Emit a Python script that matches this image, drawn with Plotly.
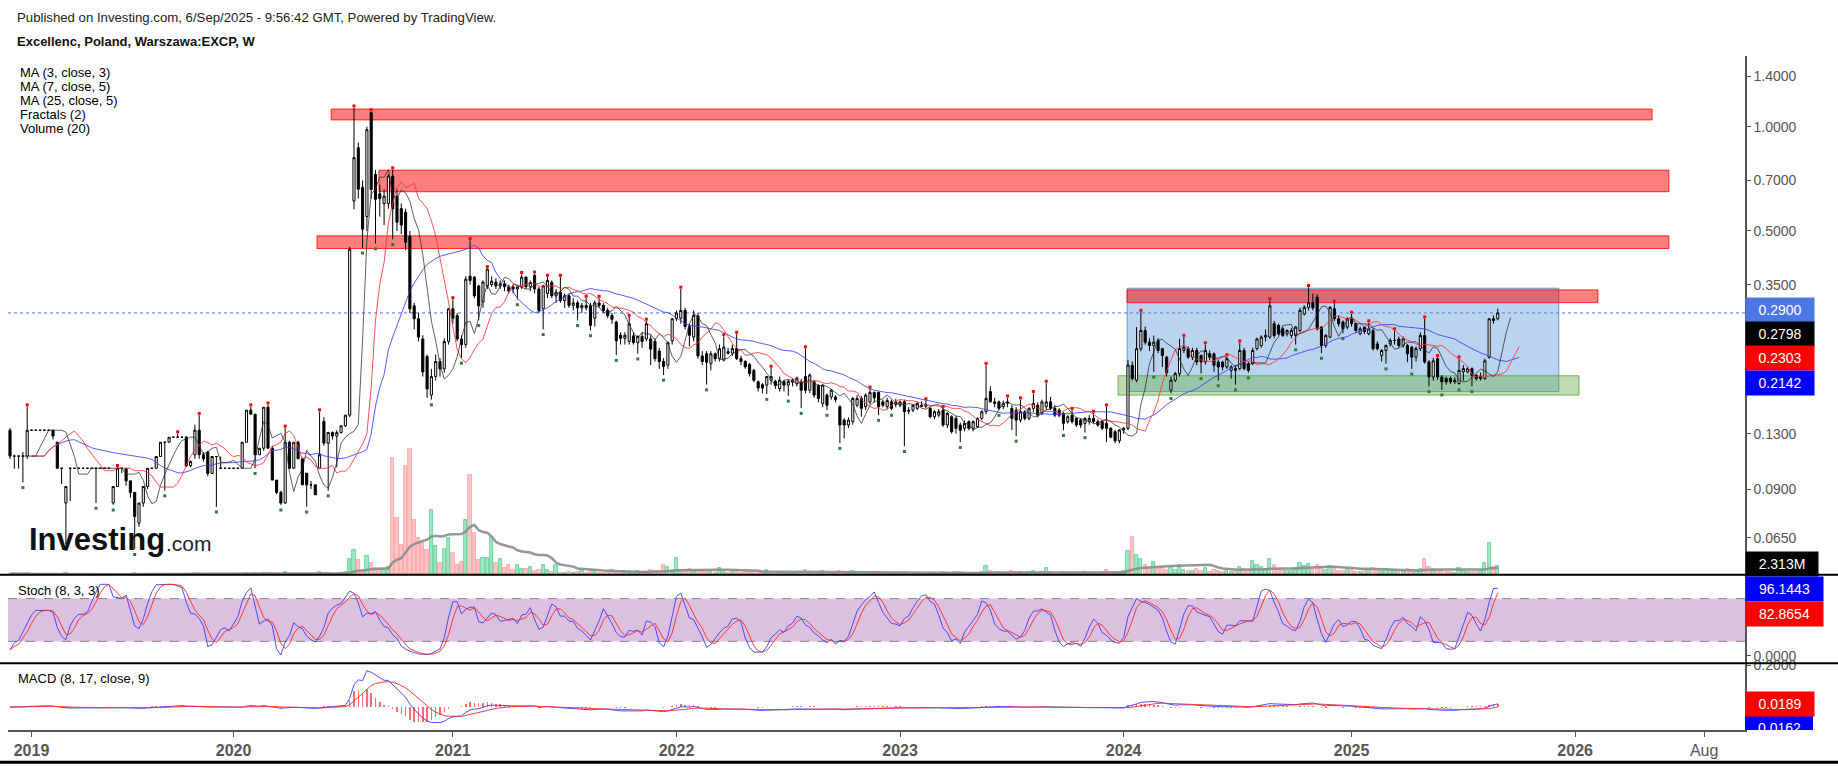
import numpy as np
import pandas as pd
import plotly.graph_objects as go

# ---------------- DATA (weekly bars) ----------------
OPEN = [
0.133,0.112,0.112,0.112,0.112,0.133,0.133,0.133,0.133,0.133,
0.133,0.1228,0.1033,0.082,0.1033,0.1033,0.1033,0.1033,0.1033,0.1033,
0.1033,0.1033,0.1033,0.1033,0.082,0.0915,0.1033,0.1033,0.095,0.088,
0.0717,0.082,0.0915,0.1033,0.1033,0.1117,0.1228,0.1228,0.127,0.127,
0.127,0.127,0.105,0.113,0.133,0.113,0.115,0.0998,0.1117,0.1033,
0.1033,0.1033,0.1033,0.1033,0.1033,0.1228,0.152,0.148,0.113,0.118,
0.155,0.118,0.0955,0.088,0.082,0.1228,0.1033,0.1228,0.110,0.100,
0.0925,0.0925,0.1033,0.141,0.122,0.131,0.128,0.131,0.137,0.147,
0.61,0.87,0.668,0.55,1.097,0.728,0.64,0.6,0.6,0.72,
0.63,0.58,0.566,0.483,0.304,0.279,0.244,0.217,0.168,0.19,
0.21,0.2,0.24,0.298,0.285,0.244,0.235,0.37,0.368,0.347,
0.312,0.347,0.35,0.356,0.347,0.352,0.345,0.345,0.34,0.345,
0.368,0.345,0.372,0.34,0.298,0.33,0.355,0.325,0.333,0.315,
0.325,0.305,0.31,0.3,0.305,0.304,0.28,0.31,0.305,0.295,
0.285,0.273,0.25,0.245,0.24,0.249,0.238,0.248,0.244,0.244,
0.24,0.225,0.21,0.205,0.241,0.279,0.28,0.295,0.265,0.247,
0.284,0.218,0.221,0.207,0.221,0.214,0.212,0.224,0.222,0.229,
0.214,0.21,0.206,0.198,0.1835,0.18,0.1795,0.1855,0.184,0.1755,
0.1835,0.1795,0.183,0.181,0.1835,0.19,0.1735,0.1835,0.1795,0.159,
0.168,0.166,0.166,0.1555,0.1423,0.1377,0.1408,0.157,0.1643,0.1555,
0.1606,0.171,0.171,0.1606,0.1555,0.1606,0.1578,0.157,0.1606,0.152,
0.152,0.1538,0.157,0.156,0.1538,0.1455,0.147,0.152,0.1377,0.1455,
0.1439,0.1377,0.1347,0.1408,0.1347,0.1362,0.1439,0.1504,0.172,0.1606,
0.1606,0.1555,0.159,0.1538,0.152,0.1423,0.1504,0.1439,0.1538,0.157,
0.149,0.1555,0.1606,0.1538,0.152,0.1487,0.1408,0.147,0.1439,0.1423,
0.1392,0.1408,0.1439,0.1408,0.1408,0.1392,0.1347,0.1317,0.124,0.1332,
0.1347,0.2047,0.1855,0.2287,0.258,0.2388,0.2336,0.2415,0.2287,0.2162,
0.1735,0.1855,0.1937,0.226,0.2287,0.2162,0.226,0.2186,0.2093,0.221,
0.221,0.2093,0.2093,0.2025,0.198,0.2003,0.2003,0.226,0.207,0.207,
0.2287,0.2336,0.247,0.247,0.27,0.267,0.261,0.2525,0.2497,0.2497,
0.258,0.288,0.301,0.31,0.322,0.264,0.2336,0.247,0.298,0.279,
0.273,0.264,0.279,0.27,0.2525,0.264,0.2525,0.258,0.236,0.2186,
0.226,0.236,0.2415,0.244,0.2336,0.2336,0.231,0.2162,0.2287,0.2497,
0.2093,0.1895,0.214,0.1895,0.1875,0.1875,0.1835,0.1815,0.196,0.196,
0.2003,0.1916,0.1875,0.1875,0.216,0.279,0.279]

HIGH = [
0.135,0.113,0.112,0.115,0.1555,0.133,0.133,0.133,0.133,0.133,
0.133,0.123,0.1033,0.0915,0.1033,0.1033,0.1033,0.1033,0.1033,0.1033,
0.1033,0.1033,0.1033,0.1033,0.0915,0.104,0.1035,0.1033,0.095,0.088,
0.082,0.0915,0.1033,0.1033,0.1117,0.1228,0.1228,0.127,0.127,0.13,
0.127,0.128,0.109,0.138,0.147,0.115,0.116,0.1117,0.1117,0.1117,
0.1033,0.1033,0.1033,0.1033,0.1228,0.152,0.1555,0.148,0.118,0.155,
0.1575,0.12,0.0955,0.089,0.135,0.124,0.1228,0.124,0.111,0.100,
0.095,0.0925,0.1505,0.145,0.131,0.132,0.133,0.137,0.147,0.45,
1.134,0.9,0.7,1.0,1.106,0.75,0.68,0.66,0.73,0.752,
0.66,0.6,0.58,0.5,0.31,0.29,0.25,0.22,0.2,0.22,
0.215,0.245,0.3,0.317,0.29,0.25,0.37,0.47,0.37,0.35,
0.36,0.39,0.37,0.365,0.36,0.36,0.35,0.35,0.345,0.375,
0.37,0.36,0.376,0.345,0.35,0.368,0.36,0.34,0.368,0.33,
0.33,0.32,0.315,0.31,0.32,0.31,0.315,0.32,0.31,0.3,
0.29,0.275,0.255,0.255,0.282,0.255,0.25,0.255,0.275,0.25,
0.245,0.23,0.215,0.24,0.28,0.295,0.34,0.3,0.27,0.295,
0.29,0.225,0.225,0.225,0.223,0.235,0.248,0.23,0.235,0.252,
0.218,0.212,0.208,0.2,0.185,0.182,0.19,0.201,0.186,0.19,
0.186,0.186,0.188,0.19,0.187,0.2287,0.194,0.186,0.18,0.18,
0.17,0.175,0.168,0.157,0.144,0.145,0.166,0.168,0.167,0.17,
0.175,0.172,0.172,0.163,0.165,0.163,0.164,0.162,0.163,0.155,
0.158,0.16,0.161,0.162,0.155,0.152,0.153,0.154,0.15,0.147,
0.146,0.14,0.142,0.142,0.142,0.145,0.152,0.205,0.178,0.165,
0.162,0.162,0.165,0.157,0.155,0.163,0.152,0.155,0.17,0.16,
0.163,0.182,0.166,0.157,0.154,0.15,0.147,0.152,0.145,0.144,
0.145,0.147,0.149,0.143,0.142,0.1555,0.136,0.133,0.134,0.136,
0.212,0.21,0.264,0.2915,0.265,0.245,0.2497,0.245,0.23,0.218,
0.19,0.196,0.244,0.247,0.232,0.23,0.23,0.22,0.235,0.226,
0.223,0.212,0.211,0.217,0.205,0.205,0.238,0.23,0.21,0.23,
0.246,0.25,0.26,0.315,0.275,0.27,0.265,0.26,0.262,0.266,
0.3,0.305,0.344,0.33,0.328,0.266,0.252,0.303,0.31,0.285,
0.276,0.282,0.288,0.272,0.265,0.266,0.272,0.262,0.24,0.228,
0.235,0.245,0.258,0.248,0.248,0.236,0.233,0.232,0.255,0.279,
0.212,0.215,0.216,0.192,0.19,0.19,0.189,0.214,0.205,0.203,
0.202,0.193,0.195,0.214,0.28,0.285,0.2985]

LOW = [
0.110,0.103,0.103,0.094,0.110,0.133,0.133,0.133,0.133,0.133,
0.125,0.1033,0.093,0.0623,0.083,0.1033,0.1033,0.1033,0.1033,0.1033,
0.082,0.1033,0.1033,0.1033,0.081,0.0915,0.1,0.092,0.085,0.0603,
0.07,0.08,0.09,0.1033,0.1033,0.1117,0.089,0.1228,0.127,0.127,
0.127,0.104,0.104,0.11,0.11,0.108,0.098,0.0998,0.080,0.1033,
0.1033,0.1033,0.1033,0.1033,0.1033,0.1228,0.148,0.1033,0.113,0.116,
0.118,0.0955,0.087,0.081,0.0815,0.1033,0.1033,0.11,0.0925,0.080,
0.09,0.0866,0.1033,0.12,0.089,0.125,0.104,0.13,0.136,0.145,
0.577,0.62,0.447,0.5,0.62,0.46,0.55,0.52,0.58,0.473,
0.5,0.49,0.44,0.29,0.26,0.24,0.19,0.165,0.163,0.185,
0.19,0.195,0.235,0.27,0.24,0.215,0.23,0.35,0.32,0.276,
0.3,0.34,0.345,0.34,0.34,0.335,0.33,0.33,0.317,0.34,
0.34,0.335,0.33,0.29,0.26,0.32,0.32,0.31,0.31,0.3,
0.3,0.295,0.276,0.29,0.295,0.258,0.265,0.3,0.29,0.28,
0.27,0.219,0.235,0.235,0.235,0.235,0.221,0.23,0.24,0.205,
0.21,0.2,0.192,0.2,0.235,0.275,0.27,0.26,0.232,0.24,
0.214,0.205,0.18,0.198,0.21,0.21,0.21,0.22,0.218,0.212,
0.205,0.2,0.19,0.183,0.172,0.17,0.169,0.18,0.175,0.172,
0.172,0.167,0.178,0.178,0.154,0.17,0.17,0.165,0.16,0.155,
0.152,0.163,0.16,0.122,0.126,0.135,0.138,0.155,0.1455,0.152,
0.158,0.16,0.147,0.155,0.153,0.152,0.155,0.155,0.1195,0.148,
0.15,0.152,0.155,0.154,0.144,0.143,0.145,0.136,0.135,0.13,
0.13,0.1228,0.132,0.133,0.132,0.135,0.142,0.148,0.16,0.155,
0.152,0.153,0.155,0.1332,0.128,0.14,0.142,0.142,0.15,0.145,
0.147,0.152,0.152,0.145,0.145,0.133,0.139,0.139,0.136,0.135,
0.131,0.138,0.139,0.136,0.133,0.1228,0.126,0.122,0.122,0.13,
0.133,0.185,0.183,0.225,0.235,0.225,0.196,0.222,0.2025,0.19,
0.17,0.183,0.19,0.222,0.214,0.212,0.205,0.194,0.206,0.212,
0.196,0.185,0.198,0.2,0.1875,0.18,0.198,0.198,0.195,0.205,
0.226,0.23,0.24,0.244,0.245,0.25,0.247,0.248,0.245,0.235,
0.255,0.285,0.295,0.295,0.258,0.222,0.23,0.245,0.275,0.265,
0.253,0.26,0.265,0.255,0.25,0.252,0.25,0.226,0.226,0.21,
0.207,0.232,0.235,0.23,0.23,0.209,0.2,0.21,0.225,0.207,
0.178,0.185,0.186,0.174,0.18,0.181,0.181,0.18,0.185,0.194,
0.178,0.185,0.185,0.186,0.214,0.27,0.276]

CLOSE = [
0.112,0.112,0.112,0.112,0.133,0.133,0.133,0.133,0.133,0.133,
0.128,0.1033,0.1033,0.0915,0.1033,0.1033,0.1033,0.1033,0.1033,0.1033,
0.1033,0.1033,0.1033,0.1033,0.0915,0.1033,0.1033,0.095,0.088,0.075,
0.082,0.0915,0.1033,0.1033,0.1117,0.1228,0.1228,0.127,0.127,0.127,
0.127,0.105,0.108,0.133,0.113,0.110,0.0998,0.1117,0.1117,0.1033,
0.1033,0.1033,0.1033,0.1033,0.1228,0.152,0.148,0.113,0.118,0.155,
0.118,0.0955,0.088,0.082,0.1228,0.1033,0.1228,0.110,0.0925,0.0925,
0.0925,0.0866,0.113,0.122,0.131,0.128,0.131,0.137,0.147,0.443,
0.814,0.66,0.506,0.98,0.659,0.617,0.62,0.63,0.72,0.58,
0.53,0.52,0.464,0.298,0.279,0.247,0.196,0.175,0.19,0.21,
0.2,0.24,0.298,0.28,0.244,0.235,0.363,0.36,0.325,0.304,
0.356,0.388,0.358,0.347,0.352,0.345,0.335,0.34,0.345,0.368,
0.345,0.355,0.34,0.295,0.347,0.36,0.325,0.333,0.315,0.325,
0.305,0.31,0.3,0.305,0.3,0.267,0.31,0.305,0.295,0.285,
0.278,0.241,0.245,0.25,0.27,0.238,0.248,0.24,0.27,0.228,
0.214,0.21,0.203,0.238,0.279,0.29,0.295,0.265,0.25,0.285,
0.218,0.21,0.209,0.221,0.214,0.2287,0.231,0.222,0.229,0.214,
0.21,0.2025,0.194,0.1855,0.176,0.176,0.19,0.19,0.179,0.1855,
0.1795,0.184,0.1855,0.188,0.1735,0.1735,0.192,0.168,0.1643,0.1795,
0.157,0.1735,0.163,0.1377,0.1377,0.1423,0.1643,0.1643,0.1538,0.168,
0.171,0.165,0.1555,0.157,0.162,0.1538,0.1606,0.1606,0.1504,0.151,
0.157,0.159,0.156,0.158,0.1455,0.1504,0.1504,0.1377,0.1487,0.1317,
0.1347,0.133,0.1392,0.1347,0.1408,0.1439,0.1504,0.1643,0.1606,0.159,
0.1538,0.159,0.16,0.1439,0.1423,0.1504,0.1439,0.1538,0.159,0.147,
0.1606,0.1606,0.1538,0.147,0.147,0.1392,0.1455,0.1408,0.1377,0.1377,
0.1439,0.1439,0.141,0.1377,0.1347,0.1347,0.127,0.124,0.1332,0.1347,
0.205,0.1875,0.2287,0.258,0.2388,0.2336,0.2388,0.226,0.2186,0.195,
0.1855,0.1937,0.2287,0.231,0.2162,0.226,0.2093,0.2093,0.226,0.2162,
0.2047,0.2025,0.2025,0.214,0.2025,0.198,0.226,0.2003,0.198,0.226,
0.244,0.247,0.2497,0.304,0.2497,0.2525,0.2497,0.258,0.258,0.264,
0.295,0.301,0.31,0.3,0.261,0.2336,0.2497,0.301,0.279,0.27,
0.261,0.279,0.27,0.258,0.261,0.256,0.261,0.2287,0.2287,0.226,
0.2336,0.2415,0.2415,0.2336,0.244,0.221,0.2162,0.2287,0.2497,0.2093,
0.1895,0.211,0.1895,0.1835,0.1835,0.1835,0.1855,0.198,0.2003,0.2003,
0.1916,0.1875,0.19,0.211,0.279,0.276,0.29]

VOLUME_M = [
0.3,0.2,0.1,0.2,0.4,0.05,0.05,0.05,0.05,0.05,
0.2,0.3,0.1,0.5,0.1,0.05,0.05,0.05,0.05,0.05,
0.1,0.05,0.05,0.05,0.3,0.2,0.1,0.2,0.2,0.4,
0.3,0.2,0.2,0.05,0.2,0.3,0.2,0.2,0.05,0.1,
0.05,0.3,0.1,0.4,0.4,0.1,0.2,0.2,0.2,0.1,
0.05,0.05,0.05,0.05,0.3,0.5,0.2,0.4,0.2,0.5,
0.5,0.4,0.3,0.3,0.6,0.3,0.3,0.3,0.3,0.3,
0.2,0.3,0.6,0.5,0.4,0.3,0.3,0.4,0.6,
4.0,6.4,3.7,1.3,4.9,3.0,1.7,0.9,1.1,2.1,
30.0,14.5,7.7,28.0,32.5,14.1,9.4,8.1,6.4,16.7,
7.5,3.0,6.6,9.4,5.6,2.6,3.2,14.1,25.6,10.7,
3.8,4.4,4.4,9.8,3.0,4.0,1.7,2.6,1.3,2.6,
1.5,1.5,2.1,0.9,1.3,2.6,1.3,0.6,2.6,0.4,
0.5,0.8,0.4,0.6,0.9,0.5,1.1,0.7,0.4,0.5,
0.6,1.2,0.8,0.5,1.0,0.6,0.5,0.9,0.7,0.8,
1.3,0.9,0.7,2.6,2.1,1.2,4.4,1.3,0.8,1.5,
1.2,0.9,
0.9,0.6,0.7,0.5,1.6,0.8,0.4,0.7,0.9,0.5,
0.6,0.8,0.7,0.9,0.6,1.1,0.8,0.5,0.6,0.4,
0.5,0.3,0.4,0.8,1.2,0.6,0.5,0.7,0.9,0.6,
0.5,0.4,1.0,0.7,0.5,0.9,0.6,0.5,0.7,0.8,
0.4,0.6,0.3,0.4,0.5,0.3,0.4,0.8,0.4,0.3,
0.4,0.3,0.4,0.5,0.3,0.3,0.6,0.4,0.5,0.6,
0.7,0.4,0.3,0.4,0.5,0.8,2.2,1.0,0.5,0.6,
0.4,0.5,0.9,0.7,0.8,0.4,0.6,1.0,0.5,0.7,
1.6,0.6,0.5,0.4,0.8,0.4,0.6,0.5,0.4,0.6,
0.5,0.4,0.5,0.6,1.1,0.8,0.7,0.6,0.9,
6.2,9.6,5.2,4.0,2.5,1.8,3.2,1.5,1.9,1.3,
2.0,1.1,2.6,1.2,0.9,1.0,1.4,0.9,1.6,0.8,
1.1,0.9,0.7,1.0,0.8,1.2,2.1,1.4,1.1,3.5,
2.4,2.0,1.5,4.0,2.6,1.3,1.1,0.9,1.0,1.8,
3.0,2.2,2.8,1.5,2.4,1.9,1.2,2.3,1.5,1.0,
0.9,1.2,1.1,0.8,0.7,0.9,1.3,1.6,1.0,0.9,
1.1,1.2,0.9,0.8,1.0,1.4,1.2,0.9,1.5,4.0,
2.1,1.5,1.2,1.1,0.7,0.6,0.5,1.7,0.9,0.6,
0.8,0.6,0.9,3.0,8.2,2.0,2.313]

FIRST_WEEK = "2018-12-03"
SKIPPED_WEEKS = ["2019-02-25", "2019-05-06", "2019-07-22", "2019-08-26", "2019-10-14", "2020-04-13"]
X_TICK_LABELS = ["2019", "2020", "2021", "2022", "2023", "2024", "2025", "2026", "Aug"]
PRICE_TICKS = [1.4, 1.0, 0.7, 0.5, 0.35, 0.13, 0.09, 0.065]
LAST_LABELS = ["0.2900", "0.2798", "0.2303", "0.2142"]
VOLUME_LABEL = "2.313M"
STOCH_LABELS = ["96.1443", "82.8654"]
MACD_LABELS = ["0.0189", "0.0162"]
LAST_PRICE = 0.29

# drawn zones: (first bar index, last bar index, low price, high price)
RED_ZONES = [(74.7, 381.9, 1.046, 1.124), (85.8, 385.8, 0.649, 0.749),
             (71.4, 385.8, 0.445, 0.484), (259.8, 369.3, 0.3106, 0.338)]
BLUE_ZONE = (259.8, 360.2, 0.172, 0.3418)
GREEN_ZONE = (257.7, 364.9, 0.168, 0.191)

# ---------------- derived series ----------------
n = len(CLOSE)
idx = np.arange(n)
o = pd.Series(OPEN); h = pd.Series(HIGH); l = pd.Series(LOW); c = pd.Series(CLOSE)
vol = pd.Series(VOLUME_M)

weeks = [d for d in pd.date_range(FIRST_WEEK, periods=480, freq="W-MON")
         if d.strftime("%Y-%m-%d") not in SKIPPED_WEEKS]
tickvals = []
for lab in X_TICK_LABELS:
    if lab == "Aug":
        k = next(i for i, d in enumerate(weeks) if d.year == 2026 and d.month == 8)
    else:
        k = next(i for i, d in enumerate(weeks) if d.year == int(lab))
    tickvals.append(k)
ticktext = [("<b>%s</b>" % t if t.isdigit() else t) for t in X_TICK_LABELS]

ma3 = c.rolling(3, min_periods=1).mean()
ma7 = c.rolling(7, min_periods=1).mean()
ma25 = c.rolling(25, min_periods=1).mean()

hh = h.rolling(8, min_periods=1).max(); ll = l.rolling(8, min_periods=1).min()
raw = 100 * (c - ll) / (hh - ll).replace(0, np.nan)
raw = raw.ffill().fillna(50)
stk = raw.rolling(3, min_periods=1).mean()
std = stk.rolling(3, min_periods=1).mean()

ema8 = c.ewm(span=8, adjust=False).mean()
ema17 = c.ewm(span=17, adjust=False).mean()
macd = ema8 - ema17
sig = macd.ewm(span=9, adjust=False).mean()
hist = macd - sig

vma = vol.rolling(20, min_periods=1).mean()
up = (c >= o).values
vcol = np.where(up, "rgba(40,200,120,0.45)", "rgba(255,90,90,0.35)")
vline = np.where(up, "rgba(40,190,110,0.7)", "rgba(255,110,110,0.6)")

fr_up = [i for i in range(2, n - 2) if h[i] > max(h[i - 2], h[i - 1], h[i + 1], h[i + 2])]
fr_dn = [i for i in range(2, n - 2) if l[i] < min(l[i - 2], l[i - 1], l[i + 1], l[i + 2])]

# ---------------- geometry ----------------
W, H = 1838, 767
ML, MR, MT, MB = 8, 93, 56, 34
PW, PH = W - ML - MR, H - MT - MB
def px_x(X): return (X - ML) / PW
def px_y(Y): return (H - MB - Y) / PH

Y_PRICE_BOTTOM, Y_STOCH_BOTTOM = 577, 666
dom_price = [px_y(Y_PRICE_BOTTOM), 1.0]
dom_stoch = [px_y(Y_STOCH_BOTTOM), px_y(Y_PRICE_BOTTOM)]
dom_macd = [0.0, px_y(Y_STOCH_BOTTOM)]
FONT = "Liberation Sans, Arial, sans-serif"
AX = "#555555"

fig = go.Figure()

# volume (base axis of price pane)
fig.add_trace(go.Bar(x=idx, y=vol, marker=dict(color=vcol, line=dict(color=vline, width=0.8)),
                     width=0.75, xaxis="x", yaxis="y", hoverinfo="skip"))
fig.add_trace(go.Scatter(x=idx, y=vma, mode="lines", line=dict(color="rgba(140,140,140,0.9)", width=2.5),
                         xaxis="x", yaxis="y", hoverinfo="skip"))

# candles
fig.add_trace(go.Candlestick(x=idx, open=o, high=h, low=l, close=c, xaxis="x", yaxis="y4",
                             increasing=dict(line=dict(color="black", width=1), fillcolor="white"),
                             decreasing=dict(line=dict(color="black", width=1), fillcolor="black"),
                             whiskerwidth=0, hoverinfo="skip"))
# moving averages with offsets
fig.add_trace(go.Scatter(x=idx + 5, y=ma25, mode="lines", line=dict(color="rgba(60,60,255,0.85)", width=1),
                         xaxis="x", yaxis="y4", hoverinfo="skip"))
fig.add_trace(go.Scatter(x=idx + 5, y=ma7, mode="lines", line=dict(color="rgba(255,50,50,0.85)", width=1),
                         xaxis="x", yaxis="y4", hoverinfo="skip"))
fig.add_trace(go.Scatter(x=idx + 3, y=ma3, mode="lines", line=dict(color="rgba(40,40,40,0.75)", width=1),
                         xaxis="x", yaxis="y4", hoverinfo="skip"))
# fractals
fig.add_trace(go.Scatter(x=fr_up, y=[h[i] * 1.012 for i in fr_up], mode="markers",
                         marker=dict(symbol="square", size=3, color="red"), xaxis="x", yaxis="y4", hoverinfo="skip"))
fig.add_trace(go.Scatter(x=fr_dn, y=[l[i] / 1.035 for i in fr_dn], mode="markers",
                         marker=dict(symbol="square", size=3, color="#2e7d32"), xaxis="x", yaxis="y4", hoverinfo="skip"))

# stochastic
fig.add_trace(go.Scatter(x=idx, y=stk, mode="lines", line=dict(color="rgba(60,60,255,0.9)", width=1),
                         xaxis="x2", yaxis="y2", hoverinfo="skip"))
fig.add_trace(go.Scatter(x=idx, y=std, mode="lines", line=dict(color="rgba(255,40,40,0.9)", width=1),
                         xaxis="x2", yaxis="y2", hoverinfo="skip"))

# MACD
fig.add_trace(go.Bar(x=idx, y=hist, marker=dict(color="rgba(255,60,60,0.75)", line=dict(width=0)), width=0.35,
                     xaxis="x3", yaxis="y3", hoverinfo="skip"))
fig.add_trace(go.Scatter(x=idx, y=macd, mode="lines", line=dict(color="rgba(60,60,255,0.9)", width=1),
                         xaxis="x3", yaxis="y3", hoverinfo="skip"))
fig.add_trace(go.Scatter(x=idx, y=sig, mode="lines", line=dict(color="rgba(255,40,40,0.9)", width=1),
                         xaxis="x3", yaxis="y3", hoverinfo="skip"))

shapes = []
# zones
x0, x1, y0, y1 = BLUE_ZONE
shapes.append(dict(type="rect", xref="x", yref="y4", x0=x0, x1=x1, y0=y0, y1=y1, layer="below",
                   fillcolor="rgba(90,150,215,0.42)", line=dict(color="rgba(70,130,200,0.8)", width=1)))
x0, x1, y0, y1 = GREEN_ZONE
shapes.append(dict(type="rect", xref="x", yref="y4", x0=x0, x1=x1, y0=y0, y1=y1, layer="below",
                   fillcolor="rgba(110,180,80,0.45)", line=dict(color="rgba(90,170,60,0.85)", width=1)))
for (x0, x1, y0, y1) in RED_ZONES:
    shapes.append(dict(type="rect", xref="x", yref="y4", x0=x0, x1=x1, y0=y0, y1=y1, layer="below",
                       fillcolor="rgba(255,0,0,0.5)", line=dict(color="rgba(255,0,0,0.8)", width=1)))
# last price dotted line
shapes.append(dict(type="line", xref="paper", yref="y4", x0=0, x1=1, y0=LAST_PRICE, y1=LAST_PRICE,
                   line=dict(color="rgb(70,110,230)", width=1, dash="dot"), layer="below"))
# stochastic band
shapes.append(dict(type="rect", xref="paper", yref="y2", x0=0, x1=1, y0=20, y1=80, layer="below",
                   fillcolor="#dcc0e0", line=dict(width=0)))
for lev in (20, 80):
    shapes.append(dict(type="line", xref="paper", yref="y2", x0=0, x1=1, y0=lev, y1=lev, layer="below",
                       line=dict(color="#888888", width=1, dash="dash")))
# pane separators and bottom frame line
for Y in (Y_PRICE_BOTTOM, Y_STOCH_BOTTOM):
    shapes.append(dict(type="line", xref="paper", yref="paper", x0=px_x(0), x1=px_x(W), y0=px_y(Y), y1=px_y(Y),
                       line=dict(color="black", width=2)))
shapes.append(dict(type="line", xref="paper", yref="paper", x0=px_x(0), x1=px_x(W), y0=px_y(765.5), y1=px_y(765.5),
                   line=dict(color="black", width=3)))
# partially hidden MACD label box
shapes.append(dict(type="rect", xref="paper", yref="paper", x0=1.0, x1=px_x(1813), y0=px_y(733), y1=px_y(719),
                   fillcolor="blue", line=dict(width=0)))

ann = []
def txt(text, X, Y, size=13, color="black", bold=False, anchor="left"):
    ann.append(dict(text=("<b>%s</b>" % text) if bold else text, x=px_x(X), y=px_y(Y), xref="paper", yref="paper",
                    xanchor=anchor, yanchor="middle", showarrow=False, font=dict(family=FONT, size=size, color=color)))

txt("Published on Investing.com, 6/Sep/2025 - 9:56:42 GMT, Powered by TradingView.", 15, 17, 13.2, "#222222")
txt("Excellenc, Poland, Warszawa:EXCP, W", 15, 41, 13, "#111111", bold=True)
for k, s in enumerate(["MA (3, close, 3)", "MA (7, close, 5)", "MA (25, close, 5)", "Fractals (2)", "Volume (20)"]):
    txt(s, 18, 73 + 14 * k, 13)
txt("Stoch (8, 3, 3)", 16, 593, 13)
txt("MACD (8, 17, close, 9)", 16, 681, 13)
txt("Investing", 27, 542, 31, "#111111", bold=True)
txt(".com", 164, 546, 21, "#222222")

def side_label(text, Y, bg, w=62):
    ann.append(dict(text=text, x=1.0, xref="paper", xanchor="left", y=px_y(Y), yref="paper", yanchor="middle",
                    showarrow=False, bgcolor=bg, font=dict(color="white", size=14, family=FONT),
                    width=w, height=18, borderpad=3, align="center"))

side_label(LAST_LABELS[0], 311, "rgb(75,120,230)")
side_label(LAST_LABELS[1], 335, "black")
side_label(LAST_LABELS[2], 359, "red")
side_label(LAST_LABELS[3], 384, "blue")
side_label(VOLUME_LABEL, 566, "black", w=66)
side_label(STOCH_LABELS[0], 591, "blue", w=71)
side_label(STOCH_LABELS[1], 616, "red", w=71)
side_label(MACD_LABELS[0], 707, "red")
ann.append(dict(text=MACD_LABELS[1], x=px_x(1779), y=px_y(731), xref="paper", yref="paper", xanchor="center",
                yanchor="middle", showarrow=False, font=dict(color="white", size=14, family=FONT)))

common_x = dict(range=[-0.465, 403.5], showgrid=False, zeroline=False, showline=False)
yside = dict(side="right", showgrid=False, zeroline=False, showline=True, linecolor=AX, linewidth=1.5,
             ticks="outside", ticklen=4, tickcolor=AX, tickfont=dict(family=FONT, size=14, color=AX))

fig.update_layout(
    width=W, height=H, margin=dict(l=ML, r=MR, t=MT, b=MB),
    paper_bgcolor="white", plot_bgcolor="white", showlegend=False, bargap=0,
    font=dict(family=FONT),
    xaxis=dict(**common_x, anchor="y", showticklabels=False, rangeslider=dict(visible=False)),
    xaxis2=dict(**common_x, anchor="y2", matches="x", showticklabels=False),
    xaxis3=dict(range=[-0.465, 403.5], showgrid=False, zeroline=False, anchor="y3", matches="x",
                showline=True, linecolor=AX, linewidth=2, ticks="outside", ticklen=5, tickcolor=AX,
                tickvals=tickvals, ticktext=ticktext, tickfont=dict(family=FONT, size=16, color=AX)),
    yaxis=dict(domain=dom_price, range=[0, 133.6], visible=False, anchor="x", fixedrange=True),
    yaxis4=dict(**yside, overlaying="y", anchor="x", type="log", range=[-1.2931, 0.204],
                tickvals=PRICE_TICKS, ticktext=["%.4f" % v for v in PRICE_TICKS]),
    yaxis2=dict(**yside, domain=dom_stoch, anchor="x2", range=[-10.7, 113.5],
                tickvals=[0], ticktext=["0.0000"]),
    yaxis3=dict(**yside, domain=dom_macd, anchor="x3", range=[-0.1095, 0.2095],
                tickvals=[0.2], ticktext=["0.2000"]),
    shapes=shapes, annotations=ann,
)

fig.write_html("out.html", config={"displayModeBar": False},
               post_script="document.body.style.margin='0';document.body.style.overflow='hidden';")
